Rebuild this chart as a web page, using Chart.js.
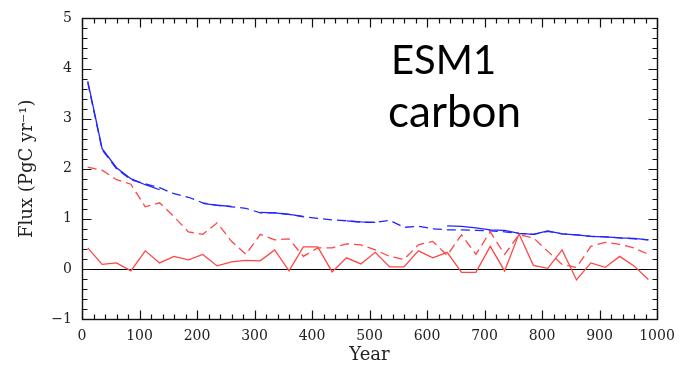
<!DOCTYPE html>
<html><head><meta charset="utf-8">
<script src="https://cdn.jsdelivr.net/npm/chart.js@4.4.1/dist/chart.umd.min.js"></script>
<style>html,body{margin:0;padding:0;background:#fff;}#wrap{width:686px;height:366px;position:relative;}</style>
</head><body><div id="wrap"><canvas id="c" width="686" height="366"></canvas></div>
<script>
// Data (years every 25 yr)
const years = [10,35,60,85,110,135,160,185,210,235,260,285,310,335,360,385,410,435,460,485,510,535,560,585,610,635,660,685,710,735,760,785,810,835,860,885,910,935,960,985];
const redSolid = [0.42,0.09,0.12,-0.04,0.36,0.12,0.25,0.18,0.29,0.06,0.14,0.17,0.16,0.38,-0.04,0.44,0.44,-0.06,0.22,0.10,0.33,0.04,0.04,0.36,0.22,0.33,-0.07,-0.07,0.45,-0.04,0.70,0.07,0.01,0.38,-0.22,0.12,0.03,0.25,0.06,-0.21];
const redDashed = [2.03,1.97,1.78,1.69,1.24,1.32,1.04,0.74,0.69,0.92,0.55,0.29,0.69,0.58,0.60,0.25,0.42,0.42,0.50,0.48,0.38,0.25,0.19,0.48,0.55,0.27,0.68,0.29,0.74,0.29,0.68,0.62,0.35,0.09,0.03,0.45,0.53,0.49,0.42,0.29];
const blueSolid = [3.75,2.40,2.02,1.80,1.68,1.58,null,null,1.31,1.27,1.25,null,1.13,1.12,1.09,1.05,null,null,0.96,0.94,0.93,null,null,null,null,0.86,0.85,0.82,0.78,0.77,0.71,0.69,0.76,0.70,0.68,0.65,0.64,0.62,0.61,0.58];
const blueDashed = [3.72,2.38,2.00,1.78,1.70,1.62,1.50,1.43,1.32,1.27,1.24,1.21,1.12,1.12,1.09,1.04,1.01,0.98,0.96,0.93,0.93,0.97,0.83,0.85,0.80,0.78,0.78,0.77,0.76,0.74,0.71,0.69,0.75,0.70,0.68,0.65,0.64,0.62,0.60,0.58];
const xTickLabels = [0,100,200,300,400,500,600,700,800,900,1000];
const yTickLabels = [-1,0,1,2,3,4,5];
const annotationLines = ['ESM1','carbon'];

const toPts = arr => years.map((yr,i)=>({x:yr,y:arr[i]}));
const RED = '#ff4545', BLUE = '#2424ff';

const serif = 'DejaVu Serif';

const frameTicks = {
  id:'frameTicks',
  beforeDatasetsDraw(chart){
    const {ctx, chartArea:a, scales:{x,y}} = chart;
    ctx.save();
    ctx.strokeStyle='#000'; ctx.lineWidth=1.2;
    const y0 = Math.round(y.getPixelForValue(0))+0.5;
    ctx.beginPath(); ctx.moveTo(a.left,y0); ctx.lineTo(a.right,y0); ctx.stroke();
    ctx.restore();
  },
  afterDatasetsDraw(chart){
    const {ctx, chartArea:a, scales:{x,y}} = chart;
    ctx.save();
    ctx.strokeStyle='#111'; ctx.lineWidth=1.4;
    const L=Math.round(a.left)+0.5, R=Math.round(a.right)+0.5, T=Math.round(a.top)+0.5, B=Math.round(a.bottom)+0.5;
    ctx.strokeRect(L,T,R-L,B-T);
    ctx.lineWidth=1.2;
    ctx.beginPath();
    for(let v=x.min; v<=x.max+1e-6; v+=20){
      const px=Math.round(x.getPixelForValue(v))+0.5;
      const len = (Math.round(v)%100===0)?9:5;
      ctx.moveTo(px,B); ctx.lineTo(px,B-len);
      ctx.moveTo(px,T); ctx.lineTo(px,T+len);
    }
    for(let k=0; k<=30; k++){
      const v = y.min + k*0.2;
      const py=Math.round(y.getPixelForValue(v))+0.5;
      const len = (k%5===0)?9:5;
      ctx.moveTo(L,py); ctx.lineTo(L+len,py);
      ctx.moveTo(R,py); ctx.lineTo(R-len,py);
    }
    ctx.stroke();
    ctx.restore();
  },
  afterDraw(chart){
    const ctx=chart.ctx;
    ctx.save();
    ctx.fillStyle='#000';
    ctx.textBaseline='alphabetic';
    ctx.font='40px Lato';
    ctx.fillText(annotationLines[0],391,74);
    ctx.font='44px Lato';
    ctx.fillText(annotationLines[1],388,127);
    ctx.restore();
  }
};

new Chart(document.getElementById('c'),{
  type:'line',
  data:{datasets:[
    {data:toPts(redDashed),borderColor:RED,borderWidth:1.3,borderDash:[9,5],pointRadius:0,tension:0,spanGaps:false},
    {data:toPts(redSolid),borderColor:RED,borderWidth:1.3,pointRadius:0,tension:0},
    {data:toPts(blueSolid),borderColor:BLUE,borderWidth:1.3,pointRadius:0,tension:0,spanGaps:false},
    {data:toPts(blueDashed),borderColor:BLUE,borderWidth:1.3,borderDash:[9,5],pointRadius:0,tension:0}
  ]},
  options:{
    responsive:false, animation:false, devicePixelRatio:1,
    layout:{padding:{top:12,right:29,left:0,bottom:0}},
    plugins:{legend:{display:false},tooltip:{enabled:false}},
    scales:{
      x:{type:'linear',min:0,max:1000,
        afterFit(s){s.height=47;},
        afterBuildTicks(s){s.ticks=xTickLabels.map(v=>({value:v}));},
        ticks:{autoSkip:false,maxRotation:0,padding:9,color:'#222',font:{family:serif,size:14},callback:v=>String(v)},
        grid:{display:false,drawTicks:false},
        border:{display:false},
        title:{display:true,text:'Year',color:'#222',font:{family:serif,size:18},padding:{top:0,bottom:0}}
      },
      y:{min:-1,max:5,
        afterFit(s){s.width=82;},
        afterBuildTicks(s){s.ticks=yTickLabels.map(v=>({value:v}));},
        ticks:{padding:10,color:'#222',font:{family:serif,size:14},callback:v=>String(v).replace('-','\u2212')},
        grid:{display:false,drawTicks:false},
        border:{display:false},
        title:{display:true,text:'Flux (PgC yr\u207B\u00B9)',color:'#222',font:{family:serif,size:18},padding:{top:17,bottom:0}}
      }
    }
  },
  plugins:[frameTicks]
});
</script></body></html>
